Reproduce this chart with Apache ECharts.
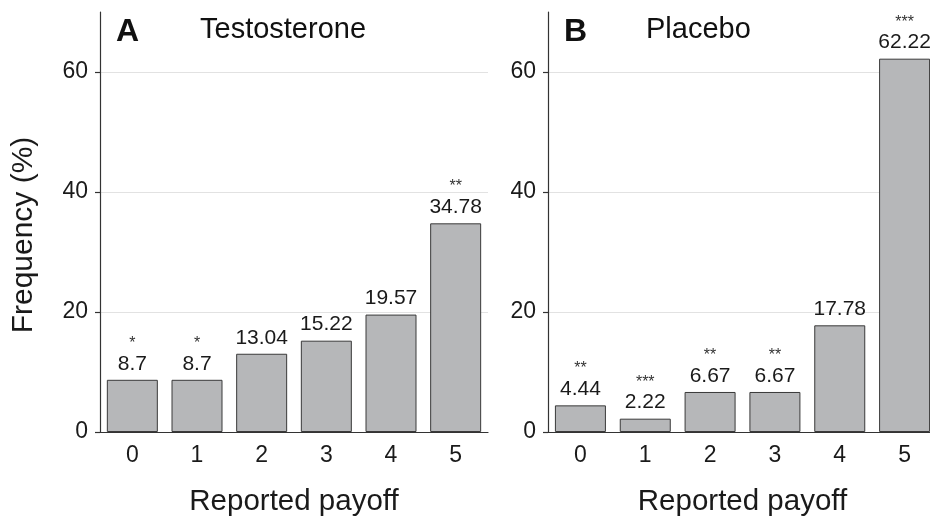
<!DOCTYPE html>
<html>
<head>
<meta charset="utf-8">
<script src="https://cdn.jsdelivr.net/npm/echarts@6/dist/echarts.min.js"></script>
<style>html,body{margin:0;padding:0;background:#fff;}#c{width:930px;height:516px;}</style>
</head>
<body>
<div id="c"></div>
<script>
const categories = ['0', '1', '2', '3', '4', '5'];
const testosteroneValues = [8.7, 8.7, 13.04, 15.22, 19.57, 34.78];
const testosteroneStars = ['*', '*', '', '', '', '**'];
const placeboValues = [4.44, 2.22, 6.67, 6.67, 17.78, 62.22];
const placeboStars = ['**', '***', '**', '**', '', '***'];
const yTicks = [0, 20, 40, 60];
const yMax = 70;

const FONT = 'Liberation Sans, Arial, sans-serif';
const chart = echarts.init(document.getElementById('c'), null, {renderer: 'canvas'});

function makeData(values, stars) {
  return values.map((v, i) => ({value: v, star: stars[i]}));
}

function xAxis(gridIndex) {
  return {
    type: 'category', gridIndex, data: categories,
    name: 'Reported payoff', nameLocation: 'middle', nameGap: 55,
    nameTextStyle: {fontFamily: FONT, fontSize: 29.5, color: '#1a1a1a'},
    axisLine: {lineStyle: {color: '#333', width: 1.2}},
    axisTick: {alignWithLabel: true, length: 5, lineStyle: {color: '#333', width: 1.2}},
    axisLabel: {fontFamily: FONT, fontSize: 23, color: '#1a1a1a', margin: 12}
  };
}
function yAxis(gridIndex, name) {
  return {
    type: 'value', gridIndex, min: 0, max: yMax, interval: 20,
    name: name, nameLocation: 'middle', nameGap: 61,
    nameTextStyle: {fontFamily: FONT, fontSize: 30, color: '#1a1a1a', padding: [0, 26, 0, 0]},
    axisLine: {show: true, lineStyle: {color: '#333', width: 1.2}},
    axisTick: {show: true, length: 5, customValues: yTicks, lineStyle: {color: '#333', width: 1.2}},
    axisLabel: {fontFamily: FONT, fontSize: 23, color: '#1a1a1a', margin: 12, customValues: yTicks},
    splitLine: {show: true, showMinLine: false, lineStyle: {color: '#e2e2e2', width: 1.2}}
  };
}
function series(idx, values, stars) {
  return {
    type: 'bar', xAxisIndex: idx, yAxisIndex: idx,
    data: makeData(values, stars), barWidth: 51,
    itemStyle: {color: '#b6b7b9', borderColor: '#3a3a3a', borderWidth: 1},
    label: {
      show: true, position: 'top', distance: 4,
      formatter: p => (p.data.star ? '{s|' + p.data.star + '}\n' : '') + '{v|' + p.data.value + '}',
      rich: {
        s: {fontFamily: FONT, fontSize: 16, color: '#333', lineHeight: 17, align: 'center'},
        v: {fontFamily: FONT, fontSize: 21, color: '#1a1a1a', lineHeight: 24, align: 'center'}
      }
    }
  };
}

chart.setOption({
  animation: false,
  title: [
    {text: 'A', left: 111, top: 11, textStyle: {fontFamily: FONT, fontSize: 32, fontWeight: 'bold', color: '#111'}},
    {text: 'Testosterone', left: 195, top: 10, textStyle: {fontFamily: FONT, fontSize: 29, fontWeight: 'normal', color: '#111'}},
    {text: 'B', left: 559, top: 11, textStyle: {fontFamily: FONT, fontSize: 32, fontWeight: 'bold', color: '#111'}},
    {text: 'Placebo', left: 641, top: 10, textStyle: {fontFamily: FONT, fontSize: 29, fontWeight: 'normal', color: '#111'}}
  ],
  grid: [
    {left: 100, top: 12, width: 388, height: 420, outerBoundsMode: 'none'},
    {left: 548, top: 12, width: 389, height: 420, outerBoundsMode: 'none'}
  ],
  xAxis: [xAxis(0), xAxis(1)],
  yAxis: [yAxis(0, 'Frequency (%)'), yAxis(1, '')],
  series: [series(0, testosteroneValues, testosteroneStars), series(1, placeboValues, placeboStars)]
});
</script>
</body>
</html>
